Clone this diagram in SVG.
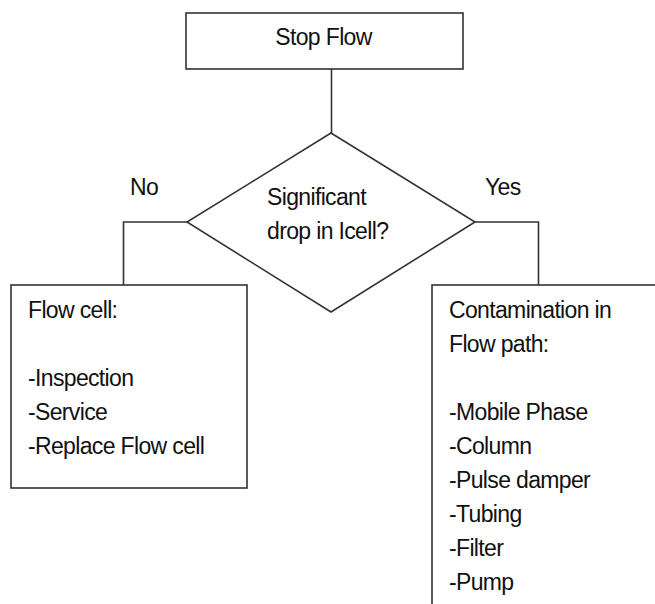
<svg xmlns="http://www.w3.org/2000/svg" width="655" height="604" viewBox="0 0 655 604">
<style>
.box{fill:#fff;stroke:#333;stroke-width:1.6}
.ln{fill:none;stroke:#333;stroke-width:1.6}
text{font-family:"Liberation Sans",Arial,sans-serif;font-size:23px;letter-spacing:-0.65px;fill:#111}
</style>
<rect width="655" height="604" fill="#fff"/>
<g id="connectors">
<line class="ln" x1="331.5" y1="69" x2="331.5" y2="133"/>
<polyline class="ln" points="187,222 123.5,222 123.5,285"/>
<polyline class="ln" points="475,222 538.5,222 538.5,285"/>
<text x="130" y="195">No</text>
<text x="485" y="195">Yes</text>
</g>
<g id="stop">
<rect class="box" x="186" y="13" width="277" height="56"/>
<text x="323.5" y="45" text-anchor="middle">Stop Flow</text>
</g>
<g id="decision">
<polygon class="box" points="331,133 475,222 331,312 187,222"/>
<text x="267" y="205">Significant</text>
<text x="267" y="239">drop in Icell?</text>
</g>
<g id="flowcell">
<rect class="box" x="11" y="285" width="236" height="203"/>
<text x="28" y="318">Flow cell:</text>
<text x="28" y="386">-Inspection</text>
<text x="28" y="420">-Service</text>
<text x="28" y="454">-Replace Flow cell</text>
</g>
<g id="contamination">
<rect class="box" x="432" y="285" width="260" height="340"/>
<text x="449" y="318">Contamination in</text>
<text x="449" y="352">Flow path:</text>
<text x="449" y="420">-Mobile Phase</text>
<text x="449" y="454">-Column</text>
<text x="449" y="488">-Pulse damper</text>
<text x="449" y="522">-Tubing</text>
<text x="449" y="556">-Filter</text>
<text x="449" y="590">-Pump</text>
</g>
</svg>
